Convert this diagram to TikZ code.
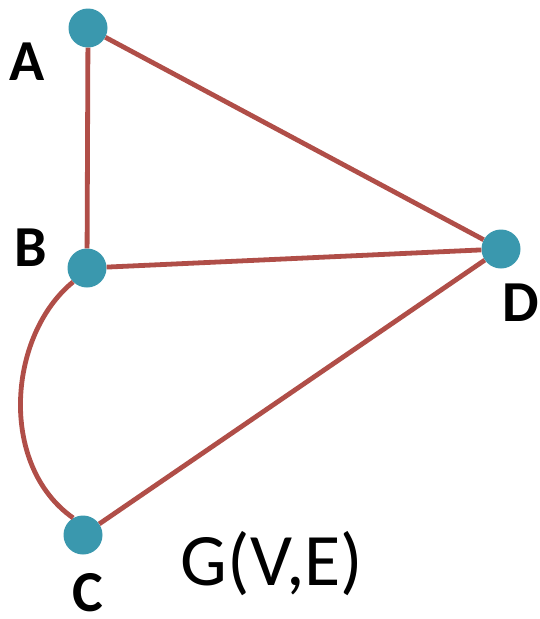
\documentclass[tikz,border=0pt]{standalone}
\usepackage{fontspec}
\setmainfont{Carlito}
\definecolor{edgec}{HTML}{B04E48}
\definecolor{nodec}{HTML}{3A98AE}
\begin{document}
\begin{tikzpicture}[x=1pt,y=-1pt,
  vert/.style={circle,fill=nodec,minimum size=39pt,inner sep=0pt},
  lbl/.style={font=\fontsize{58}{60}\selectfont\bfseries,inner sep=0pt},
  edge/.style={draw=edgec,line width=4.8pt}]
\useasboundingbox (0,0) rectangle (540,619);
\node[vert] (A) at (88,28) {};
\node[vert] (B) at (87,268) {};
\node[vert] (D) at (501,249) {};
\node[vert] (C) at (83,535) {};
\draw[edge] (A) -- (B);
\draw[edge] (A) -- (D);
\draw[edge] (B) -- (D);
\draw[edge] (D) -- (C);
\draw[edge] (B.225) .. controls (8,335) and (-2,465) .. (C.120);
\node[lbl] (la) at (27,62) {A};
\node[lbl] (lb) at (31,248) {B};
\node[lbl] (ld) at (521,303) {D};
\node[lbl] (lc) at (88,593) {C};
\node[font=\fontsize{74}{76}\selectfont,inner sep=0pt] (g) at (272,564) {G(V,E)};
\end{tikzpicture}
\end{document}
